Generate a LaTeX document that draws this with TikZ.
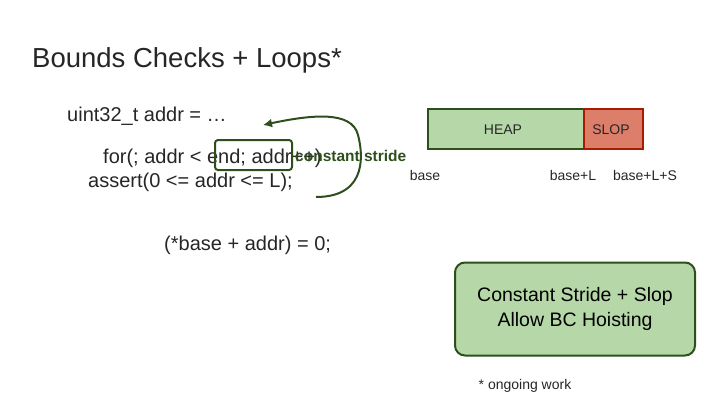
\documentclass[tikz,border=0pt]{standalone}
\usepackage{fontspec}
\setmainfont{Liberation Sans}
\usetikzlibrary{arrows.meta}
\begin{document}
\begin{tikzpicture}[x=1pt,y=-1pt,
  txt/.style={anchor=west,inner sep=0,font=\fontsize{20}{24}\selectfont,text=black!85},
  sm/.style={inner sep=0,font=\fontsize{14}{16}\selectfont,text=black!85}]
\definecolor{dg}{HTML}{2E4F1C}
\definecolor{lg}{HTML}{B6D7A8}
\definecolor{rd}{HTML}{DD7E6B}
\definecolor{rb}{HTML}{A61C00}
\useasboundingbox (0,0) rectangle (720,405);
\node[txt,font=\fontsize{27.5}{32}\selectfont] (title) at (32,60) {Bounds Checks + Loops*};
\node[txt] (decl) at (67,116) {uint32\_t addr = …};
\node[txt] (for) at (103,158) {for(; addr < end; addr++)};
\node[txt] (as) at (88,182) {assert(0 <= addr <= L);};
\node[txt] (st) at (164,245) {(*base + addr) = 0;};
\node[draw=dg,line width=2pt,rounded corners=3pt,minimum width=77pt,minimum height=30pt] (hb) at (253.5,155) {};
\node[inner sep=0,font=\bfseries\fontsize{15.5}{18}\selectfont,text=dg,anchor=west] (cs) at (295,156) {constant stride};
\coordinate (s) at (316,197);
\draw[dg,line width=2pt,-{Latex[length=9pt,width=9pt]}] (s) .. controls (370,197) and (362,150) .. (358,135) .. controls (352,110) and (310,115) .. (263,125);
\node[draw=dg,fill=lg,line width=2pt,minimum width=156pt,minimum height=40pt,anchor=north west] (heap) at (427,108) {};
\node[sm] at (503,130) {HEAP};
\node[draw=rb,fill=rd,line width=2pt,minimum width=59pt,minimum height=40pt,anchor=north west] (slop) at (583,108) {};
\node[sm] at (611,130) {SLOP};
\node[sm] (b0) at (425,175) {base};
\node[sm] (b1) at (573,175) {base+L};
\node[sm] (b2) at (645,175) {base+L+S};
\node[draw=dg,fill=lg,line width=2pt,rounded corners=10pt,minimum width=240pt,minimum height=93pt,align=center,font=\fontsize{19.5}{25}\selectfont] (box) at (575,309) {Constant Stride + Slop\\Allow BC Hoisting};
\node[sm,font=\fontsize{14}{16}\selectfont] (note) at (525,386) {* ongoing work};
\end{tikzpicture}
\end{document}
